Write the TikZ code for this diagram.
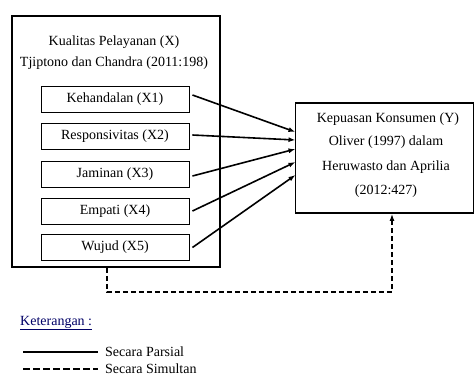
\documentclass[tikz,border=0pt]{standalone}
\usepackage{fontspec}
\setmainfont{Liberation Serif}
\usetikzlibrary{arrows.meta}
\begin{document}
\begin{tikzpicture}[x=1pt,y=-1pt,
  txt/.style={font=\fontsize{14}{16}\selectfont, inner sep=0pt},
  bigbox/.style={draw, line width=1.8pt},
  subbox/.style={draw, line width=0.9pt, minimum width=148pt, minimum height=26pt, inner sep=0pt, font=\fontsize{14}{16}\selectfont},
  partial/.style={line width=1.6pt, -{Latex[length=7pt,width=5pt]}},
  simul/.style={line width=1.6pt, dash pattern=on 5pt off 3pt, -{Latex[length=7pt,width=5pt]}}
]
\useasboundingbox (0,0) rectangle (475,376);
% outer X box
\node[bigbox, minimum width=208pt, minimum height=251pt, inner sep=0pt] (X) at (116,141.5) {};
\node[txt] (xt1) at (114,42) {Kualitas Pelayanan (X)};
\node[txt] (xt2) at (114,63) {Tjiptono dan Chandra (2011:198)};
\node[subbox] (x1) at (115,99) {Kehandalan (X1)};
\node[subbox] (x2) at (115,136) {Responsivitas (X2)};
\node[subbox] (x3) at (115,174) {Jaminan (X3)};
\node[subbox] (x4) at (115,211) {Empati (X4)};
\node[subbox] (x5) at (115,247.5) {Wujud (X5)};
% Y box
\node[bigbox, minimum width=178pt, minimum height=110pt, inner sep=0pt] (Y) at (384.5,158) {};
\node[txt] (yt1) at (388,119) {Kepuasan Konsumen (Y)};
\node[txt] (yt2) at (386,142) {Oliver (1997) dalam};
\node[txt] (yt3) at (386,167) {Heruwasto dan Aprilia};
\node[txt] (yt4) at (386,191) {(2012:427)};
% arrows
\coordinate (e1) at (295.5,132);
\coordinate (e2) at (295.5,140);
\coordinate (e3) at (295.5,149);
\coordinate (e4) at (295.5,162);
\coordinate (e5) at (295.5,175);
\draw[partial] ([xshift=3pt,yshift=4pt]x1.east) -- (e1);
\draw[partial] ([xshift=3pt,yshift=1pt]x2.east) -- (e2);
\draw[partial] ([xshift=3pt,yshift=-2pt]x3.east) -- (e3);
\draw[partial] ([xshift=3pt]x4.east) -- (e4);
\draw[partial] ([xshift=3pt]x5.east) -- (e5);
% simultaneous
\coordinate (d1) at (107,292);
\coordinate (d2) at (392,292);
\draw[simul] (X.south -| d1) -- (d1) -- (d2) -- (Y.south -| d2);
% legend
\node[txt, anchor=west, text=blue!40!black] (ket) at (20,323) {\underline{Keterangan :}};
\coordinate (l1a) at (23,352);
\coordinate (l1b) at (98,352);
\coordinate (l2a) at (23,369);
\coordinate (l2b) at (98,369);
\draw[line width=1.6pt] (l1a) -- (l1b);
\draw[line width=1.6pt, dash pattern=on 7pt off 3pt] (l2a) -- (l2b);
\node[txt, anchor=west] (lp) at (105,352) {Secara Parsial};
\node[txt, anchor=west] (ls) at (105,369) {Secara Simultan};
\end{tikzpicture}
\end{document}
